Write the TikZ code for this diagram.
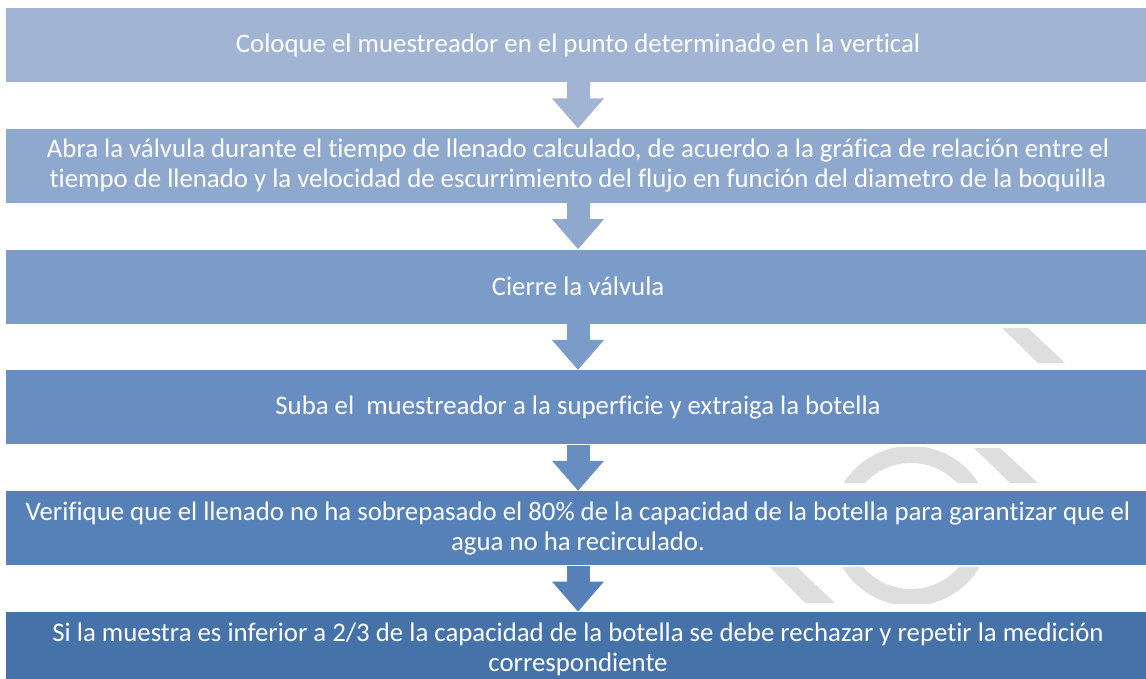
\documentclass[tikz,border=0pt]{standalone}
\usepackage{fontspec}
\setmainfont{Carlito}[Ligatures=NoCommon]
\usepackage{xcolor}
\usetikzlibrary{arrows.meta,positioning}
\definecolor{paso1}{HTML}{A2B4D4}
\definecolor{paso2}{HTML}{8FA8CE}
\definecolor{paso3}{HTML}{7B9BC8}
\definecolor{paso4}{HTML}{688DC1}
\definecolor{paso5}{HTML}{5680B8}
\definecolor{paso6}{HTML}{4672AA}
\definecolor{marca}{HTML}{DEDEDE}

\begin{document}
\begin{tikzpicture}[x=0.5pt,y=-0.5pt,
  caja/.style={minimum width=572pt,minimum height=37pt,inner sep=1pt,
    align=center,text=white,font=\fontsize{13.4}{15}\selectfont},
  flecha/.style={line width=11.5pt,-{Triangle[width=25pt,length=15pt]}},
  node distance=23pt]
\useasboundingbox (0,0) rectangle (1146,679);
% marca de agua
\begin{scope}
\clip (0,328) rectangle (1146,363) (0,447) rectangle (1146,483) (0,567) rectangle (1146,604);
\fill[marca,even odd rule] (911,526) circle (80) (911,526) circle (63);
\fill[marca] (1002,328) -- (1028,328) -- (1065,363) -- (1038,363) -- cycle;
\fill[marca] (974,448) -- (1000,448) -- (1038,483) -- (1010,483) -- cycle;
\fill[marca] (770,567) -- (797,567) -- (835,603) -- (805,603) -- cycle;
\end{scope}
\node[caja,fill=paso1] (b1) at (578,45) {Coloque el muestreador en el punto determinado en la vertical};
\node[caja,fill=paso2,below=of b1] (b2) {Abra la válvula durante el tiempo de llenado calculado, de acuerdo a la gráfica de relación entre el\\tiempo de llenado y la velocidad de escurrimiento del flujo en función del diametro de la boquilla};
\node[caja,fill=paso3,below=of b2] (b3) {Cierre la válvula};
\node[caja,fill=paso4,below=of b3] (b4) {Suba el\ \ muestreador a la superficie y extraiga la botella};
\node[caja,fill=paso5,below=of b4] (b5) {Verifique que el llenado no ha sobrepasado el 80\% de la capacidad de la botella para garantizar que el\\agua no ha recirculado.};
\node[caja,fill=paso6,below=of b5] (b6) {Si la muestra es inferior a 2/3 de la capacidad de la botella se debe rechazar y repetir la medición\\correspondiente};
\draw[flecha,paso1] (b1) -- (b2);
\draw[flecha,paso2] (b2) -- (b3);
\draw[flecha,paso3] (b3) -- (b4);
\draw[flecha,paso4] (b4) -- (b5);
\draw[flecha,paso5] (b5) -- (b6);
\end{tikzpicture}
\end{document}
